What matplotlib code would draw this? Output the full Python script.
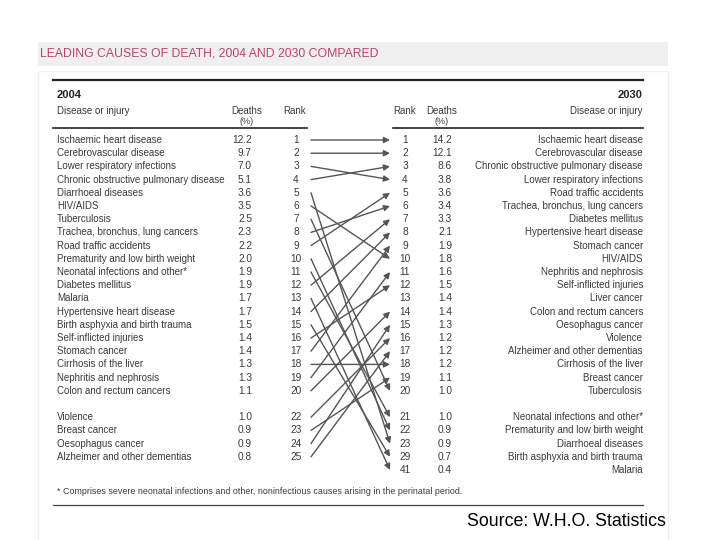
import matplotlib.pyplot as plt
from matplotlib.patches import Rectangle

plt.rcParams['font.family'] = ['Liberation Sans', 'DejaVu Sans']

left_names = [
    "Ischaemic heart disease", "Cerebrovascular disease", "Lower respiratory infections",
    "Chronic obstructive pulmonary disease", "Diarrhoeal diseases", "HIV/AIDS",
    "Tuberculosis", "Trachea, bronchus, lung cancers", "Road traffic accidents",
    "Prematurity and low birth weight", "Neonatal infections and other*", "Diabetes mellitus",
    "Malaria", "Hypertensive heart disease", "Birth asphyxia and birth trauma",
    "Self-inflicted injuries", "Stomach cancer", "Cirrhosis of the liver",
    "Nephritis and nephrosis", "Colon and rectum cancers", "Violence", "Breast cancer",
    "Oesophagus cancer", "Alzheimer and other dementias",
]
left_deaths = [12.2, 9.7, 7.0, 5.1, 3.6, 3.5, 2.5, 2.3, 2.2, 2.0, 1.9, 1.9, 1.7, 1.7,
               1.5, 1.4, 1.4, 1.3, 1.3, 1.1, 1.0, 0.9, 0.9, 0.8]
left_ranks = [1, 2, 3, 4, 5, 6, 7, 8, 9, 10, 11, 12, 13, 14, 15, 16, 17, 18, 19, 20,
              22, 23, 24, 25]

right_names = [
    "Ischaemic heart disease", "Cerebrovascular disease", "Chronic obstructive pulmonary disease",
    "Lower respiratory infections", "Road traffic accidents", "Trachea, bronchus, lung cancers",
    "Diabetes mellitus", "Hypertensive heart disease", "Stomach cancer", "HIV/AIDS",
    "Nephritis and nephrosis", "Self-inflicted injuries", "Liver cancer",
    "Colon and rectum cancers", "Oesophagus cancer", "Violence",
    "Alzheimer and other dementias", "Cirrhosis of the liver", "Breast cancer", "Tuberculosis",
    "Neonatal infections and other*", "Prematurity and low birth weight", "Diarrhoeal diseases",
    "Birth asphyxia and birth trauma", "Malaria",
]
right_deaths = [14.2, 12.1, 8.6, 3.8, 3.6, 3.4, 3.3, 2.1, 1.9, 1.8, 1.6, 1.5, 1.4, 1.4,
                1.3, 1.2, 1.2, 1.2, 1.1, 1.0, 1.0, 0.9, 0.9, 0.7, 0.4]
right_ranks = [1, 2, 3, 4, 5, 6, 7, 8, 9, 10, 11, 12, 13, 14, 15, 16, 17, 18, 19, 20,
               21, 22, 23, 29, 41]

title = "LEADING CAUSES OF DEATH, 2004 AND 2030 COMPARED"
footnote = "* Comprises severe neonatal infections and other, noninfectious causes arising in the perinatal period."
source = "Source: W.H.O. Statistics"

txt = "#3a3a3a"
fs = 7

fig = plt.figure(figsize=(7.2, 5.4), dpi=100)
ax = fig.add_axes([0, 0, 1, 1])
ax.set_xlim(0, 720)
ax.set_ylim(540, 0)
ax.axis("off")

# banner and panel
ax.add_patch(Rectangle((38, 42), 630, 24, color="#efefef", lw=0))
ax.add_patch(Rectangle((38, 71), 630, 470, facecolor="white", edgecolor="#f0f0f0", lw=1))
ax.text(40, 54, title, color="#b8456a", fontsize=8.8, va="center", ha="left")

# header
ax.plot([53, 643], [80, 80], color="#222222", lw=1.6)
ax.text(57, 95, "2004", fontsize=8, fontweight="bold", color="#222222", va="center")
ax.text(643, 95, "2030", fontsize=8, fontweight="bold", color="#222222", va="center", ha="right")
ax.text(57, 111, "Disease or injury", fontsize=fs, color=txt, va="center")
ax.text(643, 111, "Disease or injury", fontsize=fs, color=txt, va="center", ha="right")
for x in (247, 442):
    ax.text(x, 111, "Deaths", fontsize=fs, color=txt, va="center", ha="center")
    ax.text(x, 121, "(%)", fontsize=fs - 0.5, color=txt, va="center", ha="center")
ax.text(295, 111, "Rank", fontsize=fs, color=txt, va="center", ha="center")
ax.text(405, 111, "Rank", fontsize=fs, color=txt, va="center", ha="center")
ax.plot([53, 307], [128, 128], color="#222222", lw=1.2)
ax.plot([393, 643], [128, 128], color="#222222", lw=1.2)

y0, dy = 140, 13.2


def row_y(i):
    # one empty slot after the 20th row
    return y0 + dy * (i if i < 20 else i + 1)


for i, (n, d, r) in enumerate(zip(left_names, left_deaths, left_ranks)):
    y = row_y(i)
    ax.text(57, y, n, fontsize=fs, color=txt, va="center", ha="left")
    ax.text(252, y, f"{d:.1f}", fontsize=fs + 0.3, color=txt, va="center", ha="right")
    ax.text(296, y, str(r), fontsize=fs + 0.3, color=txt, va="center", ha="center")

for i, (n, d, r) in enumerate(zip(right_names, right_deaths, right_ranks)):
    y = row_y(i)
    ax.text(643, y, n, fontsize=fs, color=txt, va="center", ha="right")
    ax.text(452, y, f"{d:.1f}", fontsize=fs + 0.3, color=txt, va="center", ha="right")
    ax.text(405, y, str(r), fontsize=fs + 0.3, color=txt, va="center", ha="center")

# arrows from 2004 rank to 2030 rank
for i, n in enumerate(left_names):
    j = right_names.index(n)
    ax.annotate("", xy=(390, row_y(j)), xytext=(311, row_y(i)),
                arrowprops=dict(arrowstyle="-|>", color="#555555", lw=1.0,
                                mutation_scale=9, shrinkA=0, shrinkB=0))

ax.text(57, 492, footnote, fontsize=6.4, color=txt, va="center", ha="left")
ax.plot([53, 643], [505, 505], color="#444444", lw=0.9)
ax.text(666, 522, source, fontsize=12.8, color="black", va="center", ha="right")

fig.savefig("out.png", dpi=100)
